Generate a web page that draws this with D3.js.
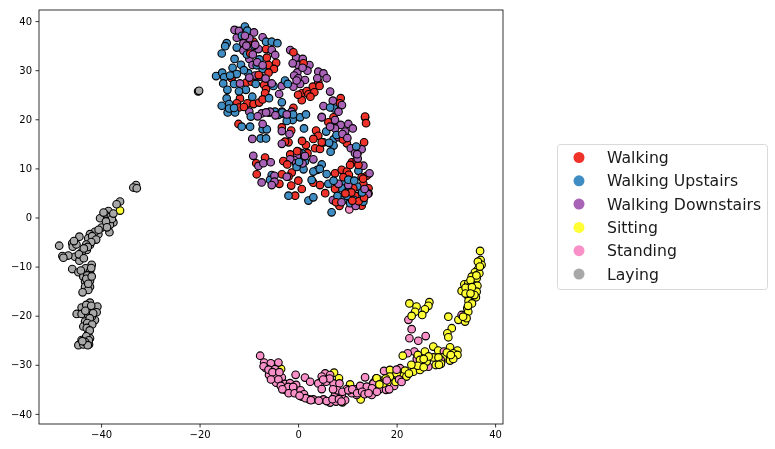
<!DOCTYPE html>
<html>
<head>
<meta charset="utf-8">
<script src="https://cdn.jsdelivr.net/npm/d3@7"></script>
<style>
  html, body { margin: 0; padding: 0; background: #fff; }
  svg { display: block; font-family: "DejaVu Sans", sans-serif; filter: blur(0.35px); }
</style>
</head>
<body>
<svg id="contenedor"></svg>
<script>
// actividades del legend
let categorias = ["Walking", "Walking Upstairs", "Walking Downstairs", "Sitting", "Standing", "Laying"];
let ticksX = [-40, -20, 0, 20, 40];
let ticksY = [-40, -30, -20, -10, 0, 10, 20, 30, 40];

// valores, [x, y] en unidades de los ejes
let walking = [[-9.05,35.8],[-9.9,35.5],[-6.5,34.3],[-6.35,32.55],[-4.45,31.5],[-6,31.05],[-4.9,30.25],[-13.5,28.35],[-10.55,27.45],[-9.4,27.65],[-6.9,27],[-6.5,26.1],[-6.7,25.3],[-11.8,24.25],[-12.45,23.25],[-12,22.4],[-10.3,23.25],[-9.05,23.1],[-7.9,23.4],[-7.2,24.05],[-0.95,33.65],[1.1,31.4],[0.75,25.3],[1.75,25.75],[2.1,25.1],[3,26.65],[4.1,27.65],[4.35,26.8],[3.3,25.5],[0.75,23.9],[-0.95,22.35],[8.65,24.3],[8.5,23.25],[13.6,20.4],[7.2,20.4],[-12.1,19.05],[-3.3,18.35],[-1.4,17.7],[3.65,17.7],[4.1,16.65],[3.1,16],[6.15,19.4],[7.85,16.6],[-1.95,15.3],[-2.65,15.45],[1.6,14.75],[3.45,14.1],[4.45,13.95],[1.9,13.1],[-1.6,12.85],[-6.7,12.2],[-8.5,11.05],[-8.4,8.8],[-3.3,8.8],[-1.3,9.15],[-1.95,8.3],[0.05,7.5],[-1.4,6.5],[0.75,5.8],[-0.6,4.45],[-3.8,6.85],[3.1,7.1],[4.45,6.6],[5.5,4.95],[7.5,9],[8.85,9.7],[9.9,9.35],[10.9,11.25],[11.9,11.7],[12.05,13.1],[9.9,15.1],[13.4,15.3],[13.95,8.5],[13.25,6.85],[14.3,5.95],[7.5,5.8],[11.2,5.95],[8.5,3.7],[8.4,2.35],[12.9,2.4],[13.6,20.55],[13.8,19.2],[10.55,10.7],[12.25,10.7],[14.3,4.9],[11.6,4.4],[-9.7,33.4],[-8,29],[-11,22.5],[-6,29.5],[0,25],[2.5,24.6],[9.1,15.9],[4.8,15.3],[0.8,15.6],[-0.2,13.5],[-3,11.5],[-2.2,10.8],[10.3,8.7],[9.2,8.2],[10.8,5.1],[9.6,4.9],[12.3,3.3],[13.4,4],[11,3.4],[12.9,8.2],[13.2,7.9],[7.7,3.1]];

let upstairs = [[-10.8,38.9],[-10.3,38.05],[-14.5,35.5],[-14.8,34.9],[-15.5,33.4],[-12.45,34.6],[-12.9,32.3],[-13.3,30.5],[-11.6,31.1],[-7.85,32.2],[-6.5,35.8],[-5.35,35.8],[-4.2,35.5],[-10.4,33.2],[-16.65,28.8],[-15.4,29.5],[-15,28.55],[-15.2,27.3],[-13,27.2],[-12.45,29.2],[-10.1,29.4],[-8.6,27.2],[-10.6,26],[-14.35,26],[-14.5,24.25],[-15.5,22.75],[-14,23.1],[-14.3,21.4],[-12.8,21.4],[-9.3,24.6],[-5.9,24.3],[-3.3,23.45],[-5,26.8],[-2.65,27.9],[-2.1,27.2],[-4.7,21.55],[-4,20.9],[-3,21.1],[-1.6,20.5],[0.4,20.4],[-7.2,30.25],[7.3,22.2],[6.5,22.4],[-9.6,20.55],[-1.1,19.85],[-11.45,18.5],[-9.75,18.5],[-7.2,17.95],[-6.35,17.95],[-7.6,16.1],[-6.5,16.1],[-2.3,19.65],[1.2,18.15],[5.7,17.5],[5.15,15.3],[7.2,15.9],[7.2,14.65],[6.6,13.4],[0.75,13.1],[0.4,12.05],[1.4,11.4],[0.75,10.7],[1.1,9.8],[4.8,10.8],[3.9,9.7],[3.1,9.35],[5.8,8.85],[-5.35,8.65],[-5.7,7.65],[2.75,7.65],[6.15,6.85],[9.55,7.3],[8.85,5.95],[12,6.3],[12.25,4.4],[-1.95,4.45],[2.1,3.45],[3.1,4.1],[9.2,3.6],[6.8,1.05],[12.25,9.5],[11.8,14.45],[10,5.25],[13.25,3.2],[10.55,2.9],[-11.4,37],[-8.9,35],[-11,30],[-8.4,31],[-13.8,28.9],[-12,25.7],[-14,22.2],[-13,22.3],[-3.2,21.4],[-1,21],[1.6,21],[7.8,16.8],[6.3,15.2],[10,4.4],[11.3,3.6],[8,4.4],[7.2,7.5],[10.2,7.7],[11.4,7.5],[13,5.1],[-0.3,10.3],[0.2,11.3],[4.4,9.9]];

let downstairs = [[-12.9,38.2],[-12,38],[-8.95,37.7],[-12.45,36.6],[-9.9,36.5],[-7.2,36.7],[-11.1,35.5],[-9.75,34.3],[-11.1,34],[-8.05,34.3],[-9.9,32.3],[-9.25,31.05],[-5.35,34.1],[-4.65,33.1],[-1.6,34.1],[-0.4,32.6],[0.95,32.3],[2.3,31.05],[1.9,29.9],[0.05,31.05],[-0.15,29.55],[-0.8,28.9],[0.05,28.35],[1.4,28],[0.4,27.2],[4.1,29.7],[5.15,29.35],[5.8,28.35],[3.9,28.35],[-3.3,26.8],[-0.95,26.65],[-3.85,25.15],[-11.8,27.3],[-8.7,28.9],[-7.7,28.7],[-5.35,27.3],[-9.9,21.55],[-7.4,21.2],[-5.9,21.35],[6.5,25.65],[7.05,23.8],[5.15,22.7],[8.9,22.9],[8.2,21.55],[4.8,20.5],[-5.7,21.55],[-3.3,21.55],[-1.3,21.55],[4.8,20.4],[7.5,19.85],[8.65,18.85],[10.2,19.05],[11.1,18.15],[9.55,17.5],[7.5,18.15],[6.5,18.5],[-7.2,19.05],[-3.3,17.6],[-1.75,17],[-9.3,16],[-3.3,15],[8.2,16.35],[-9.1,12.55],[-8.05,10.5],[-7.05,11.05],[-5.55,11.25],[0.05,13.4],[-0.25,12.4],[-0.8,11.7],[-1.6,11.85],[-0.4,11.05],[3.1,11.85],[-7.4,7.15],[-4.8,8.5],[-4.8,7.3],[-5.35,6.6],[-2.3,8.3],[10.7,14.1],[11.55,13.1],[12.9,13.9],[13.25,10.55],[14.5,9],[7.05,3.55],[10.55,4.1],[14.15,4.8],[11.7,2.35],[8.2,6.85],[10.2,6.6],[-10.8,37],[-10.5,35],[-8.7,35.2],[-9.2,33.2],[-8.3,31.6],[-7.2,31],[-6.6,28.3],[-9.9,28.5],[-1.1,31.4],[0.9,30.5],[-0.3,27.9],[-6.5,21.4],[-4.6,20.8],[-2.3,21],[-8.2,20.6],[9,17],[10,16.2],[0.9,11],[1.4,12.5],[12.1,12],[12,12.9],[8.8,3.1],[13.5,5.8]];

let sitting = [[-36.15,1.4],[-5.2,-29.9],[-3.45,-30.85],[7.3,-31.6],[8.3,-32.75],[2.25,-37.05],[9,-37.65],[10.55,-34],[12.7,-37.05],[14.6,-34.8],[16.3,-32.95],[15.85,-32.75],[17.45,-33.75],[18.55,-31.2],[19,-32.75],[18.7,-33.8],[36.95,-6.8],[37.05,-8.65],[36.8,-9.45],[37.25,-9.65],[36.4,-10.7],[35.9,-11.15],[36.8,-11.35],[35.25,-12.05],[36.25,-12.4],[33.75,-13.6],[34.55,-13.4],[35.25,-13.75],[36.4,-13.9],[33.2,-14.95],[34.55,-14.75],[35.6,-15.1],[36.25,-15.1],[34.55,-16.1],[35.25,-16.45],[36.1,-16.25],[34.9,-17.25],[34.35,-18.5],[33.9,-19.85],[34.55,-19.2],[32.55,-20.85],[33.9,-21.2],[30.5,-20.2],[31.2,-22.55],[30.3,-23.6],[30.5,-24.4],[22.6,-17.5],[24.05,-18.15],[26.65,-17.25],[26.45,-18],[25.75,-18.7],[23.75,-19.2],[25.2,-19.85],[23.05,-20.05],[27.45,-26.3],[28.45,-27.1],[30.85,-26.45],[32.35,-27.1],[31.5,-27.65],[30,-28.65],[30.85,-29.15],[32.35,-28],[29.35,-28.5],[21.25,-28.15],[24.3,-28],[25.75,-27.3],[27.45,-28.5],[24.75,-29],[26.1,-29.35],[27.95,-30.05],[23.4,-31.4],[24.75,-31.05],[21.7,-31.2],[21.05,-32.4],[22,-32.4],[17.3,-33.8],[15.95,-32.75],[18.65,-31.05],[18.65,-32.4],[28.5,-28.5],[29,-29.8],[31.5,-28.8],[30.2,-27.5],[31,-28],[26.5,-28.3],[25.5,-28.8],[28.6,-30],[24.3,-30.2],[25.5,-30.5],[23,-30],[22.5,-31.8],[20,-31.8],[20.5,-33],[17.8,-32.8],[16.5,-34],[19.8,-33.5],[36.5,-9],[36.9,-10],[36.2,-11.8],[35,-12.8],[34,-14.3],[35.3,-14.2],[34,-15.5],[35.8,-15.8],[34.6,-17],[35.3,-17.5],[34.2,-20.5],[33.5,-20.2],[34.5,-18],[35,-15.5]];

let standing = [[10.4,1.65],[-7.7,-28.15],[-6.9,-29.55],[-5.55,-29.7],[-4,-29.55],[-6.55,-30.7],[-4.7,-30.9],[-5.9,-32.05],[-4.7,-32.05],[-3.3,-32.6],[-4.45,-33.65],[-2.65,-33.9],[-1.65,-33.75],[-0.5,-32.05],[1.4,-32.6],[2.45,-33.45],[4.1,-33.8],[5.5,-31.75],[4.8,-32.4],[6.5,-32.1],[5.7,-33.45],[7.2,-33.8],[8.4,-33.8],[4.8,-34.95],[-0.4,-34.1],[-1.3,-35.15],[-2.45,-35.15],[0.05,-35.7],[0.75,-36.5],[3.1,-37.05],[5.15,-37.05],[6.5,-37.7],[7.7,-37.5],[9.55,-37.2],[7.5,-36.15],[9.9,-34.95],[11.55,-35],[12.6,-34.3],[13.95,-34.45],[13.6,-32.55],[15.3,-33.65],[16.5,-35],[14.95,-36.15],[11.9,-36.15],[10.9,-35.8],[17.45,-31.25],[19.7,-32.2],[19.5,-34.3],[17.85,-35.1],[8.85,-36.15],[-0.6,-35.15],[22.4,-20.85],[23.05,-22.75],[22.6,-24.6],[24.4,-25.1],[25.9,-24.15],[23.6,-27.3],[22.25,-27.65],[24.1,-28.8],[25.1,-29.35],[26.45,-30.4],[29.6,-27.3],[28.95,-29],[20.7,-30.7],[19.7,-32.1],[15.3,-33.8],[33.2,-19.85],[-7,-30.3],[-6,-31],[-5.2,-31.5],[-3.8,-31.5],[-5.5,-33],[-4,-33],[-3.5,-34.3],[-2,-34.5],[-1,-34.5],[-3.2,-35],[-1.9,-35.8],[-0.7,-35.8],[0.5,-35.2],[1.2,-36],[1.5,-36.8],[0.3,-36.3],[2.6,-37.2],[4.2,-37.3],[5.8,-37.4],[7,-37],[8.3,-37],[8.8,-37.5],[8,-35.2],[7.1,-35],[6.4,-32.8],[5.1,-33],[9,-35.5],[10.2,-35.2],[11,-35],[12,-35.8],[13,-35.5],[13.5,-36],[15,-34.8],[16,-35.5],[14.3,-35.8],[18,-33.2],[18.5,-35],[20,-31],[20.5,-33],[21,-33.5]];

let laying = [[-20.3,25.7],[-20.1,25.8],[-32.9,6.6],[-33.45,6.1],[-32.75,5.95],[-36.15,3.25],[-36.85,2.7],[-38.5,1.3],[-39.2,0.65],[-40.2,-0.15],[-38,0.2],[-38.5,-1.2],[-37.5,-1],[-38.2,-1.5],[-39.9,-2.05],[-38.3,-3],[-40.55,-3.4],[-41.25,-2.9],[-42.25,-3.4],[-42.6,-4.25],[-44.4,-3.9],[-41.55,-4.25],[-42.25,-5.6],[-45.85,-5.25],[-45.75,-5.95],[-48.5,-5.75],[-42.9,-6.6],[-43.95,-7.1],[-44.15,-8],[-45.3,-8],[-46.65,-7.75],[-47.85,-7.85],[-47.65,-8.2],[-44.4,-8.8],[-41.9,-9.65],[-43.15,-10.35],[-42.25,-11],[-45.85,-10.5],[-44.6,-11.15],[-43.6,-12.05],[-42.25,-12.9],[-43.25,-13.05],[-42.25,-14.1],[-43.25,-14.1],[-42.6,-14.75],[-43.75,-15.25],[-42.25,-17.35],[-43.95,-18.35],[-40.75,-18.15],[-42.9,-18.85],[-41.9,-18.85],[-44.95,-19.65],[-43.95,-19.65],[-42.6,-19.85],[-40.9,-19.3],[-41.25,-20.9],[-43.25,-21.2],[-41.9,-20.2],[-43.6,-22.2],[-42.6,-23.6],[-42.25,-24.6],[-43.95,-24.95],[-44.6,-26],[-43.6,-25.85],[-42.45,-25.85],[-42.9,-25.3],[-39.5,1],[-37.8,-0.3],[-39,-0.8],[-37.5,0.8],[-38.8,-2],[-40.5,-2.5],[-41.8,-3.8],[-41,-4.5],[-42,-5],[-43,-5.5],[-42.7,-6],[-43.5,-6.3],[-44.5,-7.5],[-43.5,-8.3],[-45,-5.5],[-45.5,-4.8],[-42,-10.3],[-42.8,-11.8],[-43,-12.5],[-41.9,-12],[-44.1,-10.8],[-42.6,-13.5],[-43,-17.8],[-42,-18],[-41.6,-19.5],[-43.2,-19],[-42.3,-20.5],[-42.8,-21.5],[-41.8,-21.8],[-42.9,-22.5],[-42.3,-23],[-43,-24.2],[-42.5,-25],[-43.2,-25.4],[-42.7,-26],[-43.8,-25.2]];

let series = [walking, upstairs, downstairs, sitting, standing, laying];

// colores de cada actividad
let colores = ["#f0332a", "#3f8dc3", "#a862b6", "#ffff33", "#f990c8", "#a8a8a8"];

// configuracion del area de dibujo
function getConfig() {
  let width = 775;
  let height = 449;
  let margin = { top: 10, bottom: 25, left: 39, right: 272 };
  let container = d3.select("#contenedor").attr("width", width).attr("height", height);
  return { width, height, margin, container };
} // fin getConfig

// escalas
function getScales(config) {
  let { width, height, margin } = config;
  let xScale = d3.scaleLinear().domain([-52.6, 41.6]).range([margin.left, width - margin.right]);
  let yScale = d3.scaleLinear().domain([-42.06, 42.26]).range([height - margin.bottom, margin.top]);
  return { xScale, yScale };
} // fin getScales

// mezclar las series por turnos para que los colores queden intercalados
function getPuntos() {
  let puntos = [];
  let maxLargo = d3.max(series, (s) => s.length);
  for (let i = 0; i < maxLargo; i++) {
    series.forEach((s, k) => {
      if (i < s.length) puntos.push({ x: s[i][0], y: s[i][1], k: k });
    });
  }
  return puntos;
} // fin getPuntos

function dibujarPuntos(scales, config) {
  let { xScale, yScale } = scales;
  config.container
    .append("g")
    .selectAll("circle")
    .data(getPuntos())
    .enter()
    .append("circle")
    .attr("r", 3.8)
    .attr("cx", (d) => xScale(d.x))
    .attr("cy", (d) => yScale(d.y))
    .attr("fill", (d) => colores[d.k])
    .attr("stroke", "#000")
    .attr("stroke-width", 1.1);
} // fin dibujarPuntos

function dibujarEjes(scales, config) {
  let { xScale, yScale } = scales;
  let { container, margin, width, height } = config;

  let axisX = d3.axisBottom(xScale).tickValues(ticksX).tickSize(3.5).tickPadding(3.5);
  let axisY = d3.axisLeft(yScale).tickValues(ticksY).tickSize(3.5).tickPadding(3.5);

  let gx = container.append("g").attr("transform", `translate(0, ${height - margin.bottom})`).call(axisX);
  let gy = container.append("g").attr("transform", `translate(${margin.left}, 0)`).call(axisY);

  [gx, gy].forEach((g) => {
    g.attr("font-family", "DejaVu Sans").attr("font-size", 10);
    g.select(".domain").remove();
    g.selectAll("line").attr("stroke", "#000").attr("stroke-width", 0.8);
    g.selectAll("text").attr("fill", "#000");
  });

  // marco
  container
    .append("rect")
    .attr("x", margin.left)
    .attr("y", margin.top)
    .attr("width", width - margin.left - margin.right)
    .attr("height", height - margin.top - margin.bottom)
    .attr("fill", "none")
    .attr("stroke", "#000")
    .attr("stroke-width", 0.8);
} // fin dibujarEjes

function dibujarLeyenda(config) {
  let legendY = d3.scalePoint().domain(categorias).range([157.5, 274]);

  config.container
    .append("rect")
    .attr("x", 557.5)
    .attr("y", 144.5)
    .attr("width", 210)
    .attr("height", 145)
    .attr("rx", 3)
    .attr("fill", "#fff")
    .attr("stroke", "#d9d9d9");

  let filas = config.container
    .append("g")
    .selectAll("g")
    .data(categorias)
    .enter()
    .append("g")
    .attr("transform", (d) => `translate(0, ${legendY(d)})`);

  filas
    .append("circle")
    .attr("cx", 579)
    .attr("r", 5.5)
    .attr("fill", (d, i) => colores[i]);

  filas
    .append("text")
    .attr("x", 607)
    .attr("y", 5.5)
    .attr("font-size", 15.7)
    .attr("fill", "#1a1a1a")
    .text((d) => d);
} // fin dibujarLeyenda

function dibujarChart() {
  let config = getConfig();
  let scales = getScales(config);
  dibujarPuntos(scales, config);
  dibujarEjes(scales, config);
  dibujarLeyenda(config);
} // fin dibujarChart

dibujarChart();
</script>
</body>
</html>
